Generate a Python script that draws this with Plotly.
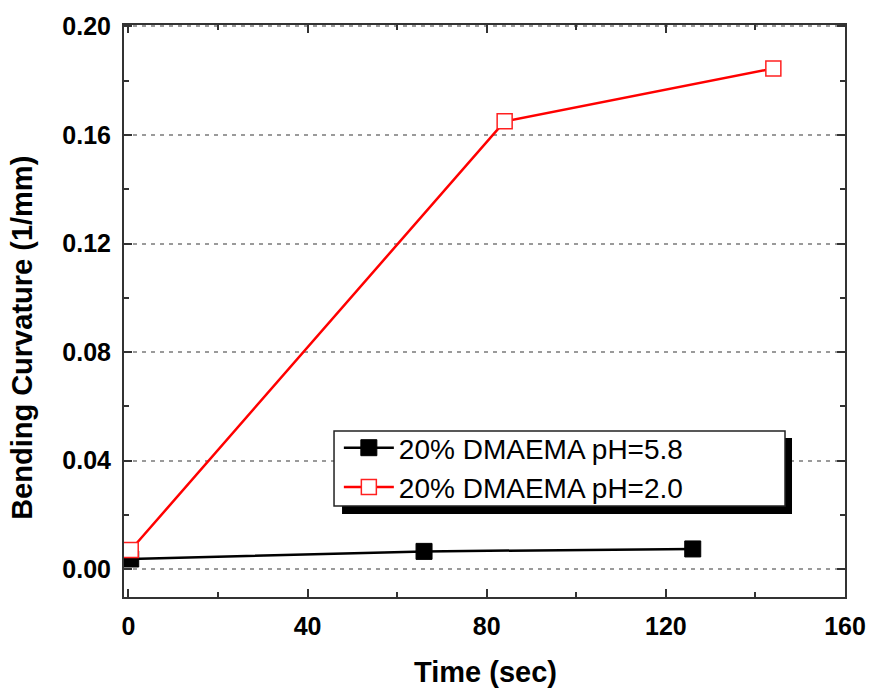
import plotly.graph_objects as go

# Data
time_ph58 = [0.5, 66, 126]
curv_ph58 = [0.0038, 0.0066, 0.0075]
time_ph20 = [0.5, 84, 144]
curv_ph20 = [0.0071, 0.165, 0.1845]
name_ph58 = "20% DMAEMA pH=5.8"
name_ph20 = "20% DMAEMA pH=2.0"
x_ticks = [0, 40, 80, 120, 160]
y_ticks = [0.00, 0.04, 0.08, 0.12, 0.16, 0.20]
y_ticklabels = ["0.00", "0.04", "0.08", "0.12", "0.16", "0.20"]

FONT = "Liberation Sans, Arial, sans-serif"
AXC = "#333333"

fig = go.Figure()
fig.add_trace(go.Scatter(
    x=time_ph58, y=curv_ph58, name=name_ph58, mode="lines+markers",
    line=dict(color="black", width=2.5),
    marker=dict(symbol="square", size=16, color="black", line=dict(color="black", width=1)),
))
fig.add_trace(go.Scatter(
    x=time_ph20, y=curv_ph20, name=name_ph20, mode="lines+markers",
    line=dict(color="#ff0000", width=2.5),
    marker=dict(symbol="square", size=15, color="white", line=dict(color="#ff2020", width=1.5)),
))

axis_common = dict(
    showline=True, linecolor=AXC, linewidth=2, mirror="ticks",
    ticks="inside", ticklen=8, tickwidth=2, tickcolor=AXC,
    tickfont=dict(family=FONT, size=25, color="black", weight="bold"),
    zeroline=False, automargin=False,
)

fig.update_xaxes(
    range=[-1, 160], tickvals=x_ticks, showgrid=False,
    minor=dict(ticks="inside", ticklen=5, tickwidth=2, tickcolor=AXC, dtick=20, showgrid=False),
    ticklabelstandoff=6,
    **axis_common,
)
fig.update_yaxes(
    range=[-0.0102, 0.2005], tickvals=y_ticks, ticktext=y_ticklabels,
    showgrid=True, gridcolor="#9a9a9a", gridwidth=1.5, griddash="4px,5px",
    minor=dict(ticks="inside", ticklen=5, tickwidth=2, tickcolor=AXC, dtick=0.02, showgrid=False),
    ticklabelstandoff=6,
    **axis_common,
)

# legend frame with drop shadow
fig.add_shape(type="rect", xref="paper", yref="paper", x0=0.3024, x1=0.9265, y0=0.1451, y1=0.278,
              fillcolor="black", line=dict(width=0), layer="above")
fig.add_shape(type="rect", xref="paper", yref="paper", x0=0.2913, x1=0.9168, y0=0.1591, y1=0.2902,
              fillcolor="white", line=dict(color="#222222", width=1.5), layer="above")

fig.add_annotation(text="<b>Bending Curvature (1/mm)</b>", xref="paper", yref="paper",
                   x=-0.1415, y=0.453, textangle=-90, showarrow=False,
                   font=dict(family=FONT, size=29, color="black"), xanchor="center", yanchor="middle")
fig.add_annotation(text="<b>Time (sec)</b>", xref="paper", yref="paper",
                   x=0.5007, y=-0.131, showarrow=False,
                   font=dict(family=FONT, size=29, color="black"), xanchor="center", yanchor="middle")

fig.update_layout(
    width=869, height=688,
    margin=dict(l=124, r=24, t=25, b=91, autoexpand=False),
    paper_bgcolor="white", plot_bgcolor="white",
    showlegend=True,
    legend=dict(x=0.298, y=0.3042, xanchor="left", yanchor="top",
                bgcolor="rgba(0,0,0,0)", borderwidth=0,
                font=dict(family=FONT, size=28, color="black"),
                itemwidth=50, tracegroupgap=0),
)

fig.write_html("out.html", config={"displayModeBar": False},
               post_script="document.body.style.margin='0';document.body.style.overflow='hidden';")
